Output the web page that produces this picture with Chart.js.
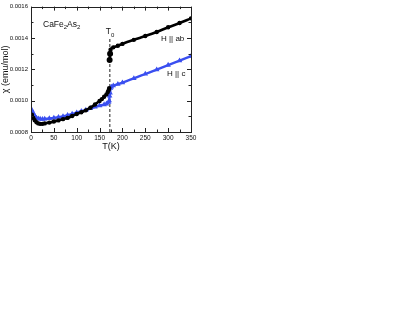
<!DOCTYPE html>
<html>
<head>
<meta charset="utf-8">
<script src="https://cdn.jsdelivr.net/npm/chart.js@4.4.0/dist/chart.umd.min.js"></script>
<style>
html,body{margin:0;padding:0;background:#fff;width:415px;height:321px;overflow:hidden;}
#wrap{position:absolute;left:0;top:0;width:200px;height:152px;}
</style>
</head>
<body>
<div id="wrap"><canvas id="c"></canvas></div>
<script>
// ---- data ----
const T_ab = [2,5,8,12,16,20,25,30,40,50,60,70,80,90,100,110,120,130,140,150,155,160,165,168,170,171,172,173,174,180,190,200,225,250,275,300,325,350];
const chi_ab = [0.000910,0.000890,0.000875,0.000862,0.000855,0.000852,0.000852,0.000855,0.000860,0.000867,0.000874,0.000882,0.000890,0.000902,0.000915,0.000926,0.000938,0.000955,0.000975,0.000998,0.001010,0.001025,0.001040,0.001055,0.001068,0.001080,0.001260,0.001300,0.001325,0.001340,0.001350,0.001362,0.001388,0.001412,0.001438,0.001468,0.001495,0.001525];
const T_c = [2,5,8,12,16,20,25,30,40,50,60,70,80,90,100,110,120,130,140,150,160,165,170,171,172,173,174,176,180,190,200,225,250,275,300,325,350];
const chi_c = [0.000940,0.000920,0.000905,0.000890,0.000885,0.000883,0.000882,0.000883,0.000886,0.000890,0.000895,0.000900,0.000907,0.000915,0.000923,0.000932,0.000940,0.000950,0.000960,0.000968,0.000975,0.000980,0.000990,0.001000,0.001030,0.001050,0.001080,0.001088,0.001095,0.001105,0.001115,0.001142,0.001170,0.001198,0.001227,0.001255,0.001284];
const T0 = 172.5;
const T0_line = [0.0008, 0.0014];
const xTicks = [0,50,100,150,200,250,300,350];
const yTicks = [0.0008,0.0010,0.0012,0.0014,0.0016];
const seriesLabels = ['H || ab','H || c'];

const BLUE = '#3a4ff0';
const abData = [];
T_ab.forEach((t,i)=>{ abData.push({x:t,y:chi_ab[i]}); if(t===171) abData.push({x:171.5,y:null}); });
const cData = T_c.map((t,i)=>({x:t,y:chi_c[i]}));

const tickPlugin = {
  id:'ticks',
  afterDraw(chart){
    const ctx = chart.ctx, a = chart.chartArea;
    const xs = chart.scales.x, ys = chart.scales.y;
    ctx.save();
    ctx.strokeStyle = '#222'; ctx.lineWidth = 1;
    ctx.strokeRect(Math.round(a.left)+0.5, Math.round(a.top)+0.5, Math.round(a.right-a.left), Math.round(a.bottom-a.top));
    ctx.beginPath();
    for(let v=xs.min; v<=xs.max+1e-9; v+=25){
      const px = Math.round(xs.getPixelForValue(v))+0.5;
      const L = (Math.abs(v%50)<1e-6)?4:2.5;
      ctx.moveTo(px,a.bottom); ctx.lineTo(px,a.bottom-L);
      ctx.moveTo(px,a.top); ctx.lineTo(px,a.top+L);
    }
    for(let k=0;k<=8;k++){
      const v = 0.0008 + k*0.0001;
      const py = Math.round(ys.getPixelForValue(v))+0.5;
      const L = (k%2===0)?4:2.5;
      ctx.moveTo(a.left,py); ctx.lineTo(a.left+L,py);
      ctx.moveTo(a.right,py); ctx.lineTo(a.right-L,py);
    }
    ctx.stroke();

    ctx.fillStyle = '#111';
    ctx.textBaseline = 'alphabetic';
    ctx.textAlign = 'left';
    const big = '8.5px "Liberation Sans", Arial, sans-serif';
    const sub = '6px "Liberation Sans", Arial, sans-serif';
    let x = 43, y = 26.5;
    [['CaFe',0],['2',1],['As',0],['2',1]].forEach(([s,isSub])=>{
      ctx.font = isSub?sub:big;
      ctx.fillText(s, x, y + (isSub?2.5:0));
      x += ctx.measureText(s).width;
    });
    const tx = xs.getPixelForValue(T0);
    ctx.font = big; ctx.fillText('T', tx-4, 34);
    const w = ctx.measureText('T').width;
    ctx.font = sub; ctx.fillText('0', tx-4+w, 36.5);
    ctx.font = '8px "Liberation Sans", Arial, sans-serif';
    ctx.fillText(seriesLabels[0], 161, 40.5);
    ctx.fillText(seriesLabels[1], 167, 75.5);
    ctx.restore();
  }
};

new Chart(document.getElementById('c'), {
  type:'line',
  data:{
    datasets:[
      {label:'T0', data:[{x:T0,y:T0_line[0]},{x:T0,y:T0_line[1]}], borderColor:'#222', borderWidth:1, borderDash:[3,2], pointRadius:0, order:3},
      {label:seriesLabels[1], data:cData, borderColor:BLUE, backgroundColor:BLUE, borderWidth:2.4, pointRadius:0.8, pointStyle:'triangle', cubicInterpolationMode:'monotone', spanGaps:false, order:2},
      {label:seriesLabels[0], data:abData, borderColor:'#000', backgroundColor:'#000', borderWidth:2.6,
        pointRadius:(c)=>{ const r=c.raw; return (r && r.x>=172 && r.x<=173) ? 1.7 : 0.9; },
        cubicInterpolationMode:'monotone', spanGaps:false, order:1}
    ]
  },
  options:{
    responsive:true, maintainAspectRatio:false, animation:false,
    layout:{padding:{left:0,top:5,right:9,bottom:0}},
    plugins:{legend:{display:false}, tooltip:{enabled:false}},
    scales:{
      x:{type:'linear', min:0, max:350,
        afterFit(s){ s.height = 20; },
        afterBuildTicks(s){ s.ticks = xTicks.map(v=>({value:v})); },
        grid:{display:false, drawTicks:false}, border:{display:false},
        ticks:{autoSkip:false, maxRotation:0, padding:2, color:'#111', font:{size:6.5, family:'"Liberation Sans", Arial, sans-serif'}},
        title:{display:true, text:'T(K)', color:'#111', padding:{top:0,bottom:0}, font:{size:9, family:'"Liberation Sans", Arial, sans-serif'}}
      },
      y:{type:'linear', min:0.0008, max:0.0016,
        afterFit(s){ s.width = 31; },
        afterBuildTicks(s){ s.ticks = yTicks.map(v=>({value:v})); },
        grid:{display:false, drawTicks:false}, border:{display:false},
        ticks:{autoSkip:false, padding:3, color:'#111', font:{size:6, family:'"Liberation Sans", Arial, sans-serif'}, callback:v=>Number(v).toFixed(4)},
        title:{display:true, text:'χ (emu/mol)', color:'#111', padding:{top:0,bottom:1}, font:{size:9, family:'"Liberation Sans", Arial, sans-serif'}}
      }
    }
  },
  plugins:[tickPlugin]
});
</script>
</body>
</html>
